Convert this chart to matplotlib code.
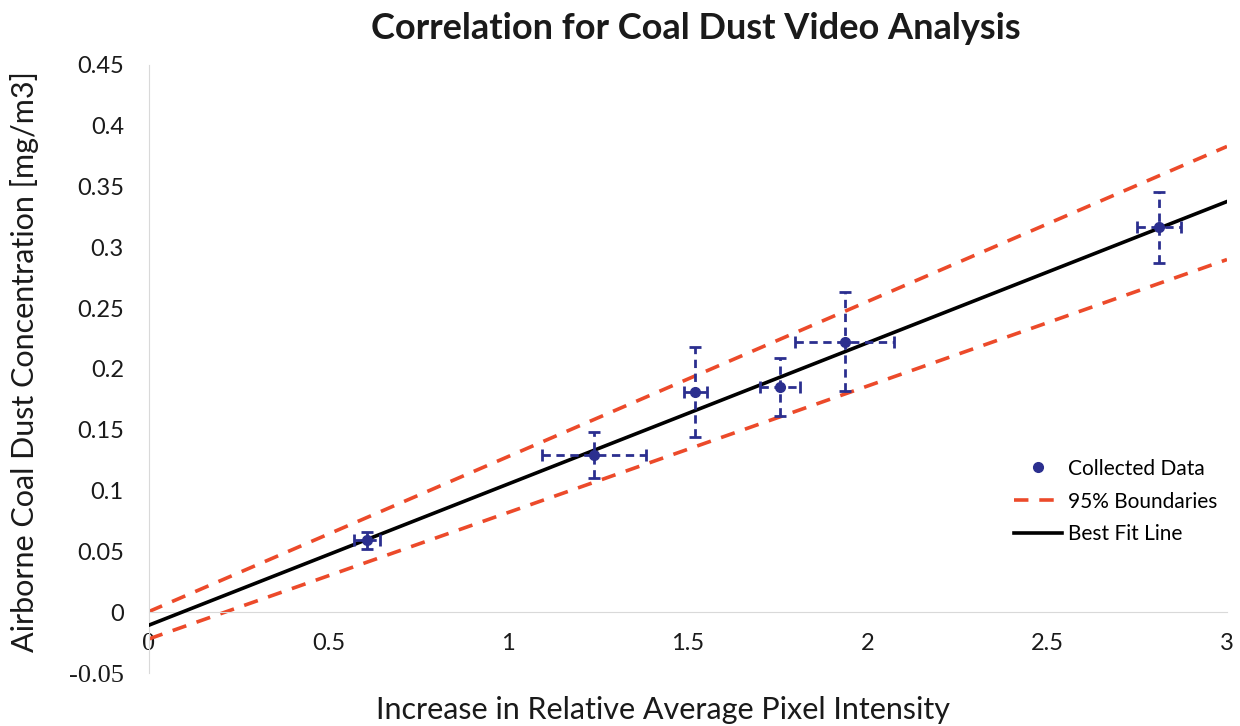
import matplotlib.pyplot as plt
from matplotlib.lines import Line2D

# data
x_data = [0.607, 1.239, 1.521, 1.757, 1.936, 2.810]
y_data = [0.059, 0.1295, 0.181, 0.185, 0.2225, 0.3165]
x_err = [0.035, 0.145, 0.032, 0.055, 0.138, 0.061]
y_err = [0.007, 0.019, 0.037, 0.024, 0.041, 0.029]

line_x = [0, 3]
fit_y = [-0.0107, 0.3377]
upper_y = [0.0005, 0.383]
lower_y = [-0.022, 0.290]

yticks = [-0.05, 0, 0.05, 0.1, 0.15, 0.2, 0.25, 0.3, 0.35, 0.4, 0.45]
ytick_labels = ['-0.05', '0', '0.05', '0.1', '0.15', '0.2', '0.25', '0.3', '0.35', '0.4', '0.45']
xticks = [0, 0.5, 1, 1.5, 2, 2.5, 3]
xtick_labels = ['0', '0.5', '1', '1.5', '2', '2.5', '3']


def main():
    plt.rcParams['font.family'] = ['Lato', 'DejaVu Sans']
    navy = '#2b2f8f'
    red = '#ec4a2a'

    fig = plt.figure(figsize=(12.4, 7.26), dpi=100)
    ax = fig.add_axes([0.120, 0.073, 0.8695, 0.8375])

    ax.plot(line_x, upper_y, color=red, linestyle=(0, (4, 3)), linewidth=2.6, zorder=2)
    ax.plot(line_x, lower_y, color=red, linestyle=(0, (4, 3)), linewidth=2.6, zorder=2)
    ax.plot(line_x, fit_y, color='black', linewidth=2.6, zorder=3)

    eb = ax.errorbar(x_data, y_data, xerr=x_err, yerr=y_err, fmt='o', color=navy,
                     markersize=7, ecolor=navy, elinewidth=2, capsize=4, capthick=2,
                     zorder=4)
    for lc in eb[2]:
        lc.set_linestyle((0, (3, 2)))

    ax.set_xlim(0, 3)
    ax.set_ylim(-0.05, 0.45)
    for s in ['top', 'right']:
        ax.spines[s].set_visible(False)
    ax.spines['left'].set_color('#d9d9d9')
    ax.spines['bottom'].set_position(('data', 0))
    ax.spines['bottom'].set_color('#d9d9d9')

    ax.set_xticks(xticks)
    ax.set_xticklabels(xtick_labels)
    ax.set_yticks(yticks)
    ax.set_yticklabels(ytick_labels)
    ax.tick_params(axis='both', length=0, labelsize=17, colors='#1a1a1a')
    ax.tick_params(axis='x', pad=15)
    ax.tick_params(axis='y', pad=18)
    # these two labels are drawn in a serif face in the original
    for lab in [ax.get_yticklabels()[0], ax.get_xticklabels()[0]]:
        lab.set_family('Liberation Serif')
        lab.set_fontsize(19)

    fig.text(0.561, 0.961, 'Correlation for Coal Dust Video Analysis', fontsize=26,
             fontweight='bold', ha='center', va='center', color='#1a1a1a')
    fig.text(0.535, 0.022, 'Increase in Relative Average Pixel Intensity',
             ha='center', va='center', fontsize=22, color='#1a1a1a')
    fig.text(0.020, 0.502, 'Airborne Coal Dust Concentration [mg/m3]', rotation=90,
             ha='center', va='center', fontsize=22, color='#1a1a1a')

    handles = [
        Line2D([], [], marker='o', color=navy, linestyle='none', markersize=7),
        Line2D([], [], color=red, linestyle=(0, (4, 3)), linewidth=2.6),
        Line2D([], [], color='black', linewidth=2.6),
    ]
    labels = ['Collected Data', '95% Boundaries', 'Best Fit Line']
    ax.legend(handles, labels, loc='center left', bbox_to_anchor=(0.785, 0.282),
              frameon=False, fontsize=15, handlelength=2.3, handletextpad=0.3,
              labelspacing=0.62)

    plt.savefig('out.png', dpi=100)


if __name__ == "__main__":
    main()
